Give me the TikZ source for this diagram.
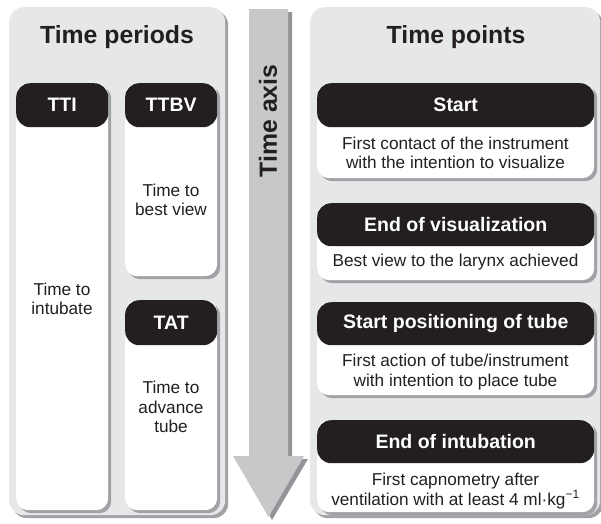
\documentclass[tikz,border=0pt]{standalone}
\usepackage{fontspec}
\setmainfont{Liberation Sans}
\usetikzlibrary{shadows}
\definecolor{panelgray}{HTML}{E6E7E8}
\definecolor{shadowgray}{HTML}{A0A2A5}
\definecolor{arrowgray}{HTML}{C7C8CA}
\definecolor{arrowshadow}{HTML}{939598}
\definecolor{headblack}{HTML}{231F20}
\tikzset{
  shad/.style={drop shadow={shadow xshift=3pt, shadow yshift=-3pt, fill=shadowgray, opacity=1}},
  panel/.style={shad, fill=panelgray, rounded corners=15pt, anchor=north west, inner sep=0pt},
  column/.style={shad, fill=white, rounded corners=12pt, anchor=north west, inner sep=0pt},
  header/.style={fill=headblack, rounded corners=14pt, anchor=north west, inner sep=0pt, text=white, font=\fontsize{19.5}{22}\selectfont\bfseries},
  title/.style={font=\fontsize{24.8}{28}\selectfont\bfseries, text=headblack},
  body/.style={font=\fontsize{17.2}{19.5}\selectfont, text=headblack, align=center, inner sep=0pt},
}
\begin{document}
\begin{tikzpicture}[x=1pt,y=-1pt]
\path[use as bounding box, fill=white] (0,0) rectangle (601,523);
% panels
\node[panel, minimum width=216pt, minimum height=508pt] (lp) at (9,7) {};
\node[panel, minimum width=290pt, minimum height=508pt] (rp) at (310,7) {};
\node[title] (lt) at (117,37) {Time periods};
\node[title] (rt) at (456,37) {Time points};
% time axis arrow
\fill[arrowshadow] (253,12) -- (292,12) -- (292,459) -- (308,459) -- (272,520) -- (237,459) -- (253,459) -- cycle;
\fill[arrowgray] (249,9) -- (288,9) -- (288,456) -- (304,456) -- (268.5,517) -- (233,456) -- (249,456) -- cycle;
\node[title, rotate=90] (ax) at (268,121) {Time axis};
% left columns
\node[column, minimum width=92pt, minimum height=427pt] (c1) at (16,83) {};
\node[header, minimum width=92pt, minimum height=44pt] (h1) at (16,83) {TTI};
\node[body] (t1) at (62,299) {Time to\\intubate};
\node[column, minimum width=92pt, minimum height=193pt] (c2) at (125,83) {};
\node[header, minimum width=92pt, minimum height=44pt] (h2) at (125,83) {TTBV};
\node[body] (t2) at (171,200) {Time to\\best view};
\node[column, minimum width=92pt, minimum height=210pt] (c3) at (125,300) {};
\node[header, minimum width=92pt, minimum height=45pt] (h3) at (125,300) {TAT};
\node[body] (t3) at (171,407) {Time to\\advance\\tube};
% right boxes
\node[column, minimum width=277pt, minimum height=95pt] (b1) at (317,83) {};
\node[header, minimum width=277pt, minimum height=44pt] (g1) at (317,83) {Start};
\node[body] (s1) at (455.5,153) {First contact of the instrument\\with the intention to visualize};
\node[column, minimum width=277pt, minimum height=77pt] (b2) at (317,203) {};
\node[header, minimum width=277pt, minimum height=43pt] (g2) at (317,203) {End of visualization};
\node[body] (s2) at (455.5,262) {Best view to the larynx achieved};
\node[column, minimum width=277pt, minimum height=93pt] (b3) at (317,302) {};
\node[header, minimum width=277pt, minimum height=43pt] (g3) at (317,302) {Start positioning of tube};
\node[body] (s3) at (455.5,372) {First action of tube/instrument\\with intention to place tube};
\node[column, minimum width=277pt, minimum height=92pt] (b4) at (317,420) {};
\node[header, minimum width=277pt, minimum height=43pt] (g4) at (317,420) {End of intubation};
\node[body] (s4) at (455.5,491) {First capnometry after\\ventilation with at least 4 ml·kg\textsuperscript{−1}};
\end{tikzpicture}
\end{document}
